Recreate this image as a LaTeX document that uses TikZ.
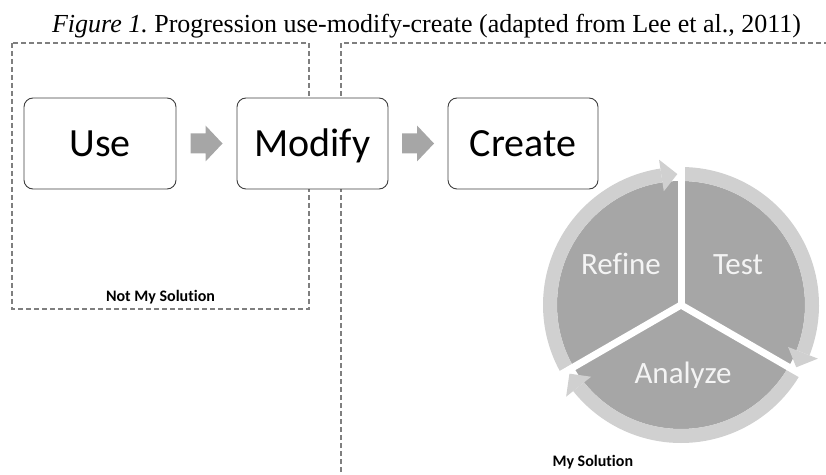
\documentclass[tikz,border=0pt]{standalone}
\usepackage{fontspec}
\setmainfont{Liberation Serif}
\newfontfamily\carlito[Ligatures=NoCommon]{Carlito}
\usetikzlibrary{calc}
\frenchspacing
\definecolor{dashgray}{HTML}{7F7F7F}
\definecolor{boxline}{HTML}{404040}
\definecolor{arrowgray}{HTML}{A6A6A6}
\definecolor{ringgray}{HTML}{D0D0D0}
\definecolor{sectorgray}{HTML}{A6A6A6}
\definecolor{labelwhite}{HTML}{F4F4F4}
\newcommand\ringarrow[3]{%
  \fill[ring] ($(C)+(#1:138)$) arc[start angle=#1, end angle=#2, radius=138]
     -- ($(C)+(#2:124)$) arc[start angle=#2, end angle=#1, radius=124] -- cycle;
  \fill[ring] ($(C)+(#2:147)$) -- ($(C)+(#3:131)$) -- ($(C)+(#2:115)$) -- cycle;}
\begin{document}
\begin{tikzpicture}[x=1pt,y=1pt,
  region/.style={draw=dashgray, line width=1.4pt, dash pattern=on 5pt off 3pt},
  stagebox/.style={draw=boxline, line width=0.9pt, fill=white, rounded corners=9pt,
    minimum width=152pt, minimum height=91pt, inner sep=0pt, text height=33pt, text depth=6pt,
    font=\carlito\fontsize{40}{48}\selectfont},
  blockarrow/.style={fill=arrowgray},
  ring/.style={fill=ringgray},
  cyclelabel/.style={anchor=base, text=labelwhite, font=\carlito\fontsize{31}{37}\selectfont},
  regionlabel/.style={anchor=base, font=\carlito\bfseries\fontsize{16}{19}\selectfont},
  gap/.style={draw=white, line width=7pt}
]
\useasboundingbox (0,0) rectangle (826,474);
\node[anchor=base, font=\fontsize{26}{31}\selectfont, inner sep=0pt] (caption) at (426.5,441)
  {\textit{Figure 1.} Progression use-modify-create (adapted from Lee et al., 2011)};
% regions
\draw[region] (12,431) rectangle (309,165);
\coordinate (rb) at (341,-6);
\coordinate (rt) at (341,431);
\coordinate (rr) at (834,431);
\draw[region] (rb) -- (rt) -- (rr);
\node[regionlabel] (notmine) at (160.5,172) {Not My Solution};
\node[regionlabel, anchor=base west] (mine) at (549,8) {My Solution};
% cycle
\coordinate (C) at (681,169);
\fill[sectorgray] (C) circle[radius=124];
\ringarrow{210}{98.6}{91.6}
\ringarrow{90}{-21.4}{-28.4}
\ringarrow{-30}{-141.4}{-148.4}
\foreach \a in {90,-30,210} \draw[gap] (C) -- ++(\a:152);
\node[cyclelabel] (refine) at (621,199) {Refine};
\node[cyclelabel] (test) at (738,199) {Test};
\node[cyclelabel] (analyze) at (683,91) {Analyze};
% stages
\node[stagebox] (use) at (100,330.5) {Use};
\node[stagebox, minimum width=151pt] (modify) at (312.5,330.5) {Modify};
\node[stagebox, minimum width=150pt] (create) at (523,330.5) {Create};
\coordinate (m1) at ($(use.east)!0.5!(modify.west)$);
\coordinate (m2) at ($(modify.east)!0.5!(create.west)$);
\foreach \m in {m1,m2}
  \fill[blockarrow, shift={(\m)}] (-16,-10) -- (-1,-10) -- (-1,-18) -- (16,0)
     -- (-1,18) -- (-1,10) -- (-16,10) -- cycle;
\end{tikzpicture}
\end{document}
